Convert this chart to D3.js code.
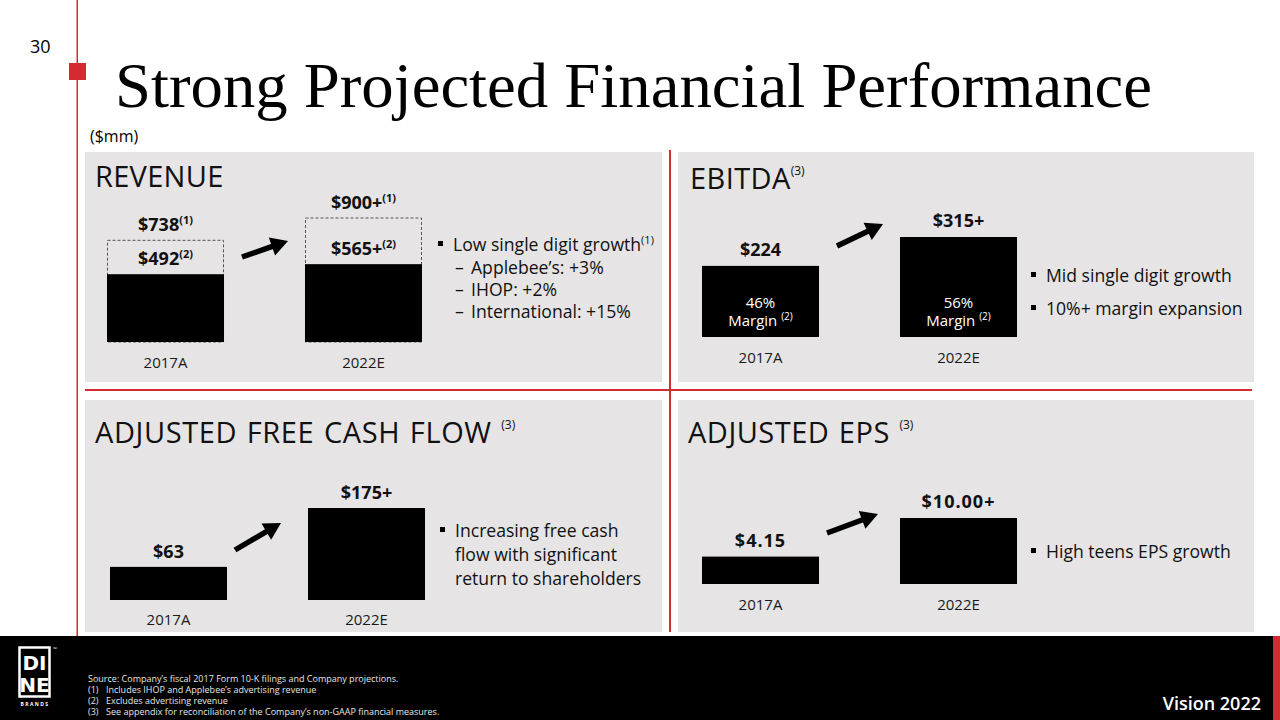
<!DOCTYPE html>
<html><head><meta charset="utf-8">
<script src="https://cdn.jsdelivr.net/npm/d3@7/dist/d3.min.js"></script>
<style>html,body{margin:0;padding:0;background:#fff;overflow:hidden}svg{display:block}</style>
</head><body>
<script>
// ---------------- DATA ----------------
const years = ["2017A", "2022E"];
const revenueTotal = [738, 900];
const revenueExAd = [492, 565];
const revenueTotalLabels = ["$738", "$900+"];
const revenueExAdLabels = ["$492", "$565+"];
const ebitda = [224, 315];
const ebitdaLabels = ["$224", "$315+"];
const ebitdaMargins = ["46%", "56%"];
const fcf = [63, 175];
const fcfLabels = ["$63", "$175+"];
const eps = [4.15, 10.00];
const epsLabels = ["$4.15", "$10.00+"];
const revenueSubBullets = ["Applebee\u2019s: +3%", "IHOP: +2%", "International: +15%"];
const ebitdaBullets = ["Mid single digit growth", "10%+ margin expansion"];
const fcfBullets = ["Increasing free cash", "flow with significant", "return to shareholders"];
const epsBullets = ["High teens EPS growth"];
const footnotes = [
  ["(1)", "Includes IHOP and Applebee\u2019s advertising revenue"],
  ["(2)", "Excludes advertising revenue"],
  ["(3)", "See appendix for reconciliation of the Company\u2019s non-GAAP financial measures."]
];

// ---------------- SETUP ----------------
const FONT = "'Open Sans', 'DejaVu Sans', sans-serif";
const RED = "#d42a31";
const PANEL = "#e6e4e5";
const BODY = 17.6;
const svg = d3.select("body").append("svg").attr("width", 1280).attr("height", 720)
  .style("font-family", FONT);
svg.append("rect").attr("width", 1280).attr("height", 720).attr("fill", "#fff");

function txt(g, x, y, s, size, opts = {}) {
  const t = g.append("text").attr("x", x).attr("y", y).attr("font-size", size)
    .attr("fill", opts.fill || "#111").attr("font-weight", opts.weight || 400)
    .attr("text-anchor", opts.anchor || "start");
  if (opts.family) t.attr("font-family", opts.family);
  const main = t.append("tspan").text(s);
  if (opts.ls) main.attr("letter-spacing", opts.ls);
  if (opts.ws) main.attr("word-spacing", opts.ws);
  if (opts.sup) {
    t.append("tspan").attr("font-size", opts.supSize || 11).attr("dy", opts.supDy || -7).text(opts.sup);
  }
  return t;
}

function arrow(g, x1, y1, x2, y2) {
  const a = Math.atan2(y2 - y1, x2 - x1);
  const hl = 17, hw = 9.5;
  const bx = x2 - hl * Math.cos(a), by = y2 - hl * Math.sin(a);
  g.append("line").attr("x1", x1).attr("y1", y1).attr("x2", bx + 2 * Math.cos(a)).attr("y2", by + 2 * Math.sin(a))
    .attr("stroke", "#000").attr("stroke-width", 5.5);
  const px = -Math.sin(a), py = Math.cos(a);
  g.append("path").attr("d", `M${x2},${y2}L${bx + px * hw},${by + py * hw}L${bx - px * hw},${by - py * hw}Z`)
    .attr("fill", "#000");
}

function bullet(g, x, baseline) {
  g.append("rect").attr("x", x).attr("y", baseline - 10).attr("width", 5).attr("height", 5).attr("fill", "#000");
}

function makeX(x0) {
  return d3.scaleBand().domain(years).range([x0, x0 + 315]).paddingInner(0.409).paddingOuter(0);
}

// ---------------- SLIDE CHROME ----------------
svg.append("rect").attr("x", 76.5).attr("y", 0).attr("width", 1.5).attr("height", 636).attr("fill", RED);
svg.append("rect").attr("x", 69).attr("y", 63).attr("width", 17).attr("height", 17).attr("fill", RED);
txt(svg, 30, 53, "30", 18, { fill: "#000" });
svg.append("text").attr("x", 115).attr("y", 107).attr("font-family", "'Liberation Serif', 'DejaVu Serif', serif")
  .attr("font-size", 63).attr("fill", "#000").attr("textLength", 1037).attr("lengthAdjust", "spacingAndGlyphs")
  .text("Strong Projected Financial Performance");
txt(svg, 90, 142, "($mm)", 16, { fill: "#000" });

const panels = [[85, 152, 577, 230], [678, 152, 576, 230], [85, 400, 577, 232], [678, 400, 576, 232]];
svg.selectAll("rect.panel").data(panels).join("rect").attr("class", "panel")
  .attr("x", d => d[0]).attr("y", d => d[1]).attr("width", d => d[2]).attr("height", d => d[3]).attr("fill", PANEL);
svg.append("rect").attr("x", 85).attr("y", 389).attr("width", 1167).attr("height", 2).attr("fill", RED);
svg.append("rect").attr("x", 669).attr("y", 150).attr("width", 2).attr("height", 482).attr("fill", RED);

// ---------------- REVENUE ----------------
{
  const g = svg.append("g");
  txt(g, 95, 187, "REVENUE", 29, { ls: 0.3 });
  const x = makeX(107);
  const y = d3.scaleLinear().domain([0, 900]).range([342, 218]);
  g.selectAll("rect.tot").data(years).join("rect").attr("class", "tot")
    .attr("x", d => x(d) + 0.5).attr("y", (d, i) => y(revenueTotal[i]))
    .attr("width", x.bandwidth() - 1).attr("height", (d, i) => y(0) - y(revenueTotal[i]))
    .attr("fill", "none").attr("stroke", "#555").attr("stroke-width", 1).attr("stroke-dasharray", "3,2");
  g.selectAll("rect.ex").data(years).join("rect").attr("class", "ex")
    .attr("x", d => x(d)).attr("y", (d, i) => y(revenueExAd[i]))
    .attr("width", x.bandwidth()).attr("height", (d, i) => y(0) - y(revenueExAd[i])).attr("fill", "#000");
  years.forEach((d, i) => {
    const cx = x(d) + x.bandwidth() / 2;
    txt(g, cx, y(revenueTotal[i]) - 9, revenueTotalLabels[i], 18, { weight: 700, anchor: "middle", sup: "(1)", supSize: 11 });
    txt(g, cx, y(revenueExAd[i]) - 9, revenueExAdLabels[i], 18, { weight: 700, anchor: "middle", sup: "(2)", supSize: 11 });
    txt(g, cx, y(0) + 26, d, 15, { anchor: "middle", fill: "#1a1a1a" });
  });
  arrow(g, 242, 257, 288, 241);
  bullet(g, 438, 251);
  txt(g, 453, 251, "Low single digit growth", BODY, { sup: "(1)", supSize: 11 });
  revenueSubBullets.forEach((s, i) => {
    txt(g, 455, 274 + i * 22, "\u2013", BODY);
    txt(g, 471, 274 + i * 22, s, BODY);
  });
}

// ---------------- EBITDA ----------------
{
  const g = svg.append("g");
  txt(g, 690, 189, "EBITDA", 29, { ls: 0.4, sup: "(3)", supSize: 12, supDy: -14 });
  const x = makeX(702);
  const y = d3.scaleLinear().domain([0, 315]).range([337, 237]);
  g.selectAll("rect.bar").data(years).join("rect").attr("class", "bar")
    .attr("x", d => x(d)).attr("y", (d, i) => y(ebitda[i]))
    .attr("width", x.bandwidth()).attr("height", (d, i) => y(0) - y(ebitda[i])).attr("fill", "#000");
  years.forEach((d, i) => {
    const cx = x(d) + x.bandwidth() / 2;
    txt(g, cx, y(ebitda[i]) - 10, ebitdaLabels[i], 18, { weight: 700, anchor: "middle" });
    txt(g, cx, y(0) - 29, ebitdaMargins[i], 15, { anchor: "middle", fill: "#fff" });
    txt(g, cx, y(0) - 11, "Margin ", 15, { anchor: "middle", fill: "#fff", sup: "(2)", supSize: 10, supDy: -6 });
    txt(g, cx, y(0) + 26, d, 15, { anchor: "middle", fill: "#1a1a1a" });
  });
  arrow(g, 837, 246, 883, 224);
  ebitdaBullets.forEach((s, i) => {
    bullet(g, 1031, 282 + i * 33);
    txt(g, 1046, 282 + i * 33, s, BODY);
  });
}

// ---------------- ADJUSTED FREE CASH FLOW ----------------
{
  const g = svg.append("g");
  txt(g, 95, 443, "ADJUSTED FREE CASH FLOW ", 29, { sup: "(3)", supSize: 12, supDy: -14, ls: 0.6, ws: 1.5 });
  const x = makeX(110);
  const y = d3.scaleLinear().domain([0, 175]).range([600, 508]);
  g.selectAll("rect.bar").data(years).join("rect").attr("class", "bar")
    .attr("x", d => x(d)).attr("y", (d, i) => y(fcf[i]))
    .attr("width", x.bandwidth()).attr("height", (d, i) => y(0) - y(fcf[i])).attr("fill", "#000");
  years.forEach((d, i) => {
    const cx = x(d) + x.bandwidth() / 2;
    txt(g, cx, y(fcf[i]) - 9, fcfLabels[i], 18, { weight: 700, anchor: "middle" });
    txt(g, cx, y(0) + 25, d, 15, { anchor: "middle", fill: "#1a1a1a" });
  });
  arrow(g, 235, 550, 281, 523);
  bullet(g, 440, 537);
  fcfBullets.forEach((s, i) => txt(g, 455, 537 + i * 24, s, BODY));
}

// ---------------- ADJUSTED EPS ----------------
{
  const g = svg.append("g");
  txt(g, 688, 443, "ADJUSTED EPS ", 29, { sup: "(3)", supSize: 12, supDy: -14, ls: 0.5, ws: 1.5 });
  const x = makeX(702);
  const y = d3.scaleLinear().domain([0, 10]).range([584, 518]);
  g.selectAll("rect.bar").data(years).join("rect").attr("class", "bar")
    .attr("x", d => x(d)).attr("y", (d, i) => y(eps[i]))
    .attr("width", x.bandwidth()).attr("height", (d, i) => y(0) - y(eps[i])).attr("fill", "#000");
  years.forEach((d, i) => {
    const cx = x(d) + x.bandwidth() / 2;
    txt(g, cx, y(eps[i]) - 10, epsLabels[i], 18, { weight: 700, anchor: "middle", ls: 1 });
    txt(g, cx, y(0) + 26, d, 15, { anchor: "middle", fill: "#1a1a1a" });
  });
  arrow(g, 827, 533, 878, 514);
  epsBullets.forEach((s, i) => {
    bullet(g, 1031, 558 + i * 24);
    txt(g, 1046, 558 + i * 24, s, BODY);
  });
}

// ---------------- FOOTER ----------------
{
  const g = svg.append("g");
  g.append("rect").attr("x", 0).attr("y", 636).attr("width", 1280).attr("height", 84).attr("fill", "#000");
  g.append("rect").attr("x", 1273).attr("y", 636).attr("width", 7).attr("height", 84).attr("fill", RED);
  // logo
  g.append("rect").attr("x", 19.5).attr("y", 647.5).attr("width", 30).attr("height", 49)
    .attr("fill", "none").attr("stroke", "#fff").attr("stroke-width", 2.5);
  txt(g, 34.5, 670, "DI", 20, { fill: "#fff", weight: 700, anchor: "middle", family: "'DejaVu Sans', sans-serif" });
  txt(g, 34.5, 692, "NE", 20, { fill: "#fff", weight: 700, anchor: "middle", family: "'DejaVu Sans', sans-serif" });
  txt(g, 35, 706, "BRANDS", 5, { fill: "#fff", weight: 700, anchor: "middle", ls: 1.4 });
  txt(g, 53, 651, "\u2122", 5, { fill: "#fff" });
  // footnotes
  txt(g, 88, 682, "Source:  Company\u2019s fiscal 2017 Form 10-K filings and Company projections.", 9, { fill: "#e6e6e6" });
  footnotes.forEach((f, i) => {
    txt(g, 88, 693 + i * 11, f[0], 9, { fill: "#e6e6e6" });
    txt(g, 106, 693 + i * 11, f[1], 9, { fill: "#e6e6e6" });
  });
  txt(g, 1261, 710, "Vision 2022", 18, { fill: "#fff", weight: 600, anchor: "end" });
}
</script>
</body></html>
